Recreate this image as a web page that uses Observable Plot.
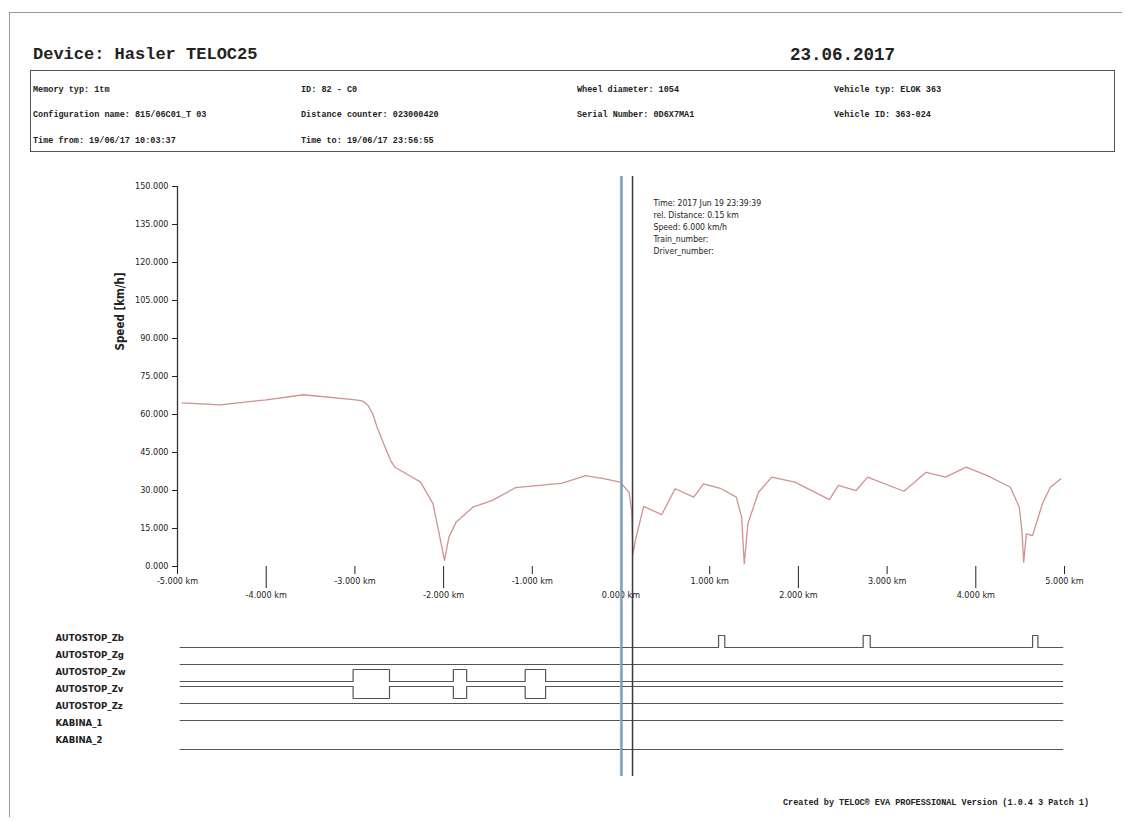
<!DOCTYPE html>
<html>
<head>
<meta charset="utf-8">
<script src="https://cdn.jsdelivr.net/npm/d3@7"></script>
<script src="https://cdn.jsdelivr.net/npm/@observablehq/plot@0.6"></script>
<style>
  html, body { margin: 0; padding: 0; background: #fff; }
  #page { position: relative; width: 1125px; height: 822px; overflow: hidden; background: #fff; }
  .abs { position: absolute; }
  #border { left: 9px; top: 12px; width: 1112px; height: 804px; border-top: 1.5px solid #9a9a9a; border-left: 1.5px solid #9a9a9a; }
  .mono { font-family: "Liberation Mono", "DejaVu Sans Mono", monospace; font-weight: bold; color: #222; white-space: nowrap; }
  #title { left: 33px; top: 45px; font-size: 17px; }
  #date { left: 790px; top: 45px; font-size: 17.5px; }
  #hbox { left: 30px; top: 70px; width: 1085px; height: 82px; border: 1.5px solid #555; box-sizing: border-box; }
  .field { font-size: 8.5px; }
  #footer { left: 783px; top: 798px; font-size: 8.5px; }
  svg { overflow: visible; }
</style>
</head>
<body>
<div id="page">
  <div id="border" class="abs"></div>
  <div id="title" class="abs mono"></div>
  <div id="date" class="abs mono"></div>
  <div id="hbox" class="abs"></div>
  <div id="fields"></div>
  <div id="footer" class="abs mono"></div>
  <div id="speed" class="abs" style="left:0;top:170px"></div>
  <div id="signals" class="abs" style="left:0;top:606px"></div>
  <div id="cursor" class="abs" style="left:0;top:176px;pointer-events:none"></div>
</div>
<script>
// ---------- header texts ----------
const titleText = "Device: Hasler TELOC25";
const dateText = "23.06.2017";
const headerFields = [
  ["Memory typ: 1tm", "ID: 82 - C0", "Wheel diameter: 1054", "Vehicle typ: ELOK 363"],
  ["Configuration name: 815/06C01_T 03", "Distance counter: 023000420", "Serial Number: 0D6X7MA1", "Vehicle ID: 363-024"],
  ["Time from: 19/06/17 10:03:37", "Time to: 19/06/17 23:56:55", "", ""]
];
const footerText = "Created by TELOC\u00ae EVA PROFESSIONAL Version (1.0.4 3 Patch 1)";

// ---------- speed data (distance km, speed km/h) ----------
const distance = [-4.95,-4.52,-4.00,-3.58,-2.99,-2.91,-2.85,-2.80,-2.75,-2.69,-2.60,-2.55,-2.42,-2.26,-2.12,-2.05,-1.99,-1.94,-1.86,-1.67,-1.45,-1.19,-0.92,-0.66,-0.40,-0.18,-0.01,0.09,0.12,0.135,0.16,0.255,0.46,0.61,0.82,0.93,1.13,1.30,1.36,1.39,1.43,1.55,1.70,1.96,2.35,2.45,2.65,2.78,3.19,3.44,3.66,3.89,4.13,4.39,4.49,4.52,4.54,4.57,4.64,4.75,4.84,4.96];
const speed    = [64.6,63.8,65.8,67.8,65.8,65.3,63.5,60.3,55.0,49.7,42.0,39.2,36.6,33.3,24.8,13.0,2.4,11.6,17.5,23.4,26.1,31.1,32.0,32.9,35.9,34.6,33.3,29.3,22.0,5.0,10.0,23.7,20.5,30.7,27.4,32.6,30.7,27.4,19.5,1.0,16.9,29.3,35.3,33.3,26.4,32.0,30.0,35.3,29.7,37.2,35.3,39.2,35.9,31.3,23.4,14.2,1.7,12.9,12.2,24.7,31.3,34.6];

const yTicks = [0,15,30,45,60,75,90,105,120,135,150];
const xTicksUpper = [-5,-3,-1,1,3,5];
const xTicksLower = [-4,-2,0,2,4];
const xDomain = [-5, 5];

// cursor positions (km)
const cursors = [0, 0.13];
const annotationLines = ["Time: 2017 Jun 19 23:39:39", "rel. Distance: 0.15 km", "Speed: 6.000 km/h", "Train_number:", "Driver_number:"];

// ---------- digital signals ----------
const signalNames = ["AUTOSTOP_Zb","AUTOSTOP_Zg","AUTOSTOP_Zw","AUTOSTOP_Zv","AUTOSTOP_Zz","KABINA_1","KABINA_2"];
const signalBase  = [0, 0, 0, 1, 1, 1, 0];
const signalPulses = [
  [[1.10,1.17],[2.73,2.81],[4.64,4.70]],
  [],
  [[-3.02,-2.61],[-1.89,-1.74],[-1.08,-0.85]],
  [[-3.02,-2.61],[-1.89,-1.74],[-1.08,-0.85]],
  [],
  [],
  []
];
const signalSpan = [-4.97, 4.98];

// ---------- build ----------
document.getElementById("title").textContent = titleText;
document.getElementById("date").textContent = dateText;
document.getElementById("footer").textContent = footerText;
const colX = [33, 301, 577, 834], rowY = [85, 110, 136];
const fieldsDiv = document.getElementById("fields");
headerFields.forEach((row, r) => row.forEach((t, c) => {
  if (!t) return;
  const d = document.createElement("div");
  d.className = "abs mono field";
  d.style.left = colX[c] + "px"; d.style.top = rowY[r] + "px";
  d.textContent = t;
  fieldsDiv.appendChild(d);
}));

const narrow = `"Liberation Sans Narrow", "DejaVu Sans Condensed", "Liberation Sans", Arial, sans-serif`;
const speedData = distance.map((d, i) => ({d, v: speed[i]}));
const fmtKm = d => d.toFixed(3) + " km";

const speedPlot = Plot.plot({
  width: 1125, height: 436,
  marginLeft: 177, marginRight: 61, marginTop: 16, marginBottom: 40,
  style: {fontFamily: narrow, fontSize: "9px", color: "#222", background: "transparent"},
  x: {domain: xDomain},
  y: {domain: [0, 150]},
  marks: [
    Plot.axisY(yTicks, {tickFormat: d => d.toFixed(3), tickSize: 5, label: null, fontSize: 9, stroke: "#222"}),
    Plot.axisX(xTicksUpper, {tickFormat: fmtKm, tickSize: 8, tickPadding: 3, label: null, fontSize: 9, stroke: "#222"}),
    Plot.axisX(xTicksLower, {tickFormat: fmtKm, tickSize: 22, tickPadding: 3, label: null, fontSize: 9, stroke: "#222"}),
    Plot.ruleX([xDomain[0]], {stroke: "#333", strokeWidth: 1.3}),
    Plot.text(["Speed [km/h]"], {frameAnchor: "left", rotate: -90, dx: -57, dy: -26, fontWeight: "bold", fontSize: 11.5, fill: "#222"}),
    Plot.line(speedData, {x: "d", y: "v", stroke: "#cf9391", strokeWidth: 1.3}),
    Plot.text([annotationLines.join("\n")], {x: [cursors[1]], frameAnchor: "top", textAnchor: "start", lineAnchor: "top", dx: 21, dy: 11, lineHeight: 1.4, fontSize: 8.6, fill: "#222"})
  ]
});
document.getElementById("speed").appendChild(speedPlot);

// signal table
const sigRows = [];
signalNames.forEach((name, i) => {
  const base = signalBase[i];
  sigRows.push({name, d: signalSpan[0], s: base});
  signalPulses[i].forEach(([a, b]) => {
    sigRows.push({name, d: a, s: 1 - base});
    sigRows.push({name, d: b, s: base});
  });
  sigRows.push({name, d: signalSpan[1], s: base});
});

const sigPlot = Plot.plot({
  width: 1125, height: 180,
  marginLeft: 177, marginRight: 61, marginTop: 27, marginBottom: 35,
  style: {fontFamily: narrow, fontSize: "10px", background: "transparent"},
  x: {domain: xDomain, axis: null},
  y: {domain: [0, 1], axis: null},
  fy: {domain: signalNames, paddingInner: 0.3, paddingOuter: 0, axis: null},
  marks: [
    Plot.line(sigRows, {x: "d", y: "s", z: "name", fy: "name", curve: "step-after", stroke: "#555", strokeWidth: 1.2}),
    Plot.text(signalNames, {fy: d => d, text: d => d, frameAnchor: "left", dx: -122, dy: -4, textAnchor: "start", fontWeight: "bold", fontSize: 9.5, fill: "#222"})
  ]
});
document.getElementById("signals").appendChild(sigPlot);

const cursorPlot = Plot.plot({
  width: 1125, height: 600,
  marginLeft: 177, marginRight: 61, marginTop: 0, marginBottom: 0,
  style: {background: "transparent"},
  x: {domain: xDomain, axis: null},
  marks: [
    Plot.ruleX([cursors[0]], {stroke: "#8fb2cc", strokeWidth: 2.2}),
    Plot.ruleX([cursors[0]], {stroke: "#4a5a66", strokeWidth: 0.6, dx: 1.2}),
    Plot.ruleX([cursors[1]], {stroke: "#3a3a3a", strokeWidth: 1.5})
  ]
});
document.getElementById("cursor").appendChild(cursorPlot);
</script>
</body>
</html>
